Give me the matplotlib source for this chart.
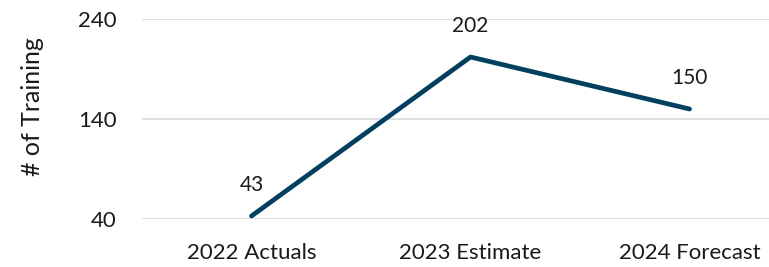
import matplotlib
matplotlib.use("Agg")
import matplotlib.pyplot as plt

# data
categories = ["2022 Actuals", "2023 Estimate", "2024 Forecast"]
trainings = [43, 202, 150]
y_ticks = [40, 140, 240]

plt.rcParams['font.family'] = ['Lato', 'DejaVu Sans']

fig = plt.figure(figsize=(7.69, 2.67), dpi=100)
ax = fig.add_axes([142 / 769, 48 / 267, 627 / 769, 200 / 267])

x = list(range(len(categories)))
ax.plot(x, trainings, color='#033f5e', linewidth=3.4, solid_capstyle='round', zorder=3)

for xi, v in zip(x, trainings):
    ax.annotate(str(v), (xi, v), xytext=(0, 22), textcoords='offset points',
                ha='center', va='center', fontsize=15, color='#1a1a1a')

ax.set_xlim(-0.5, 2.363)
ax.set_ylim(40, 240)
ax.set_yticks(y_ticks)
ax.set_xticks(x)
ax.set_xticklabels(categories)
ax.grid(axis='y', color='#d9d9d9', linewidth=1.2)
ax.set_axisbelow(True)
for s in ax.spines.values():
    s.set_visible(False)
ax.tick_params(length=0, labelsize=16, colors='#1a1a1a')
ax.tick_params(axis='x', pad=17)
ax.tick_params(axis='y', pad=18)
ax.set_ylabel("# of Training", fontsize=18, color='#1a1a1a', va='center')
ax.yaxis.set_label_coords(-0.175, 0.56)

fig.savefig("out.png", dpi=100)
